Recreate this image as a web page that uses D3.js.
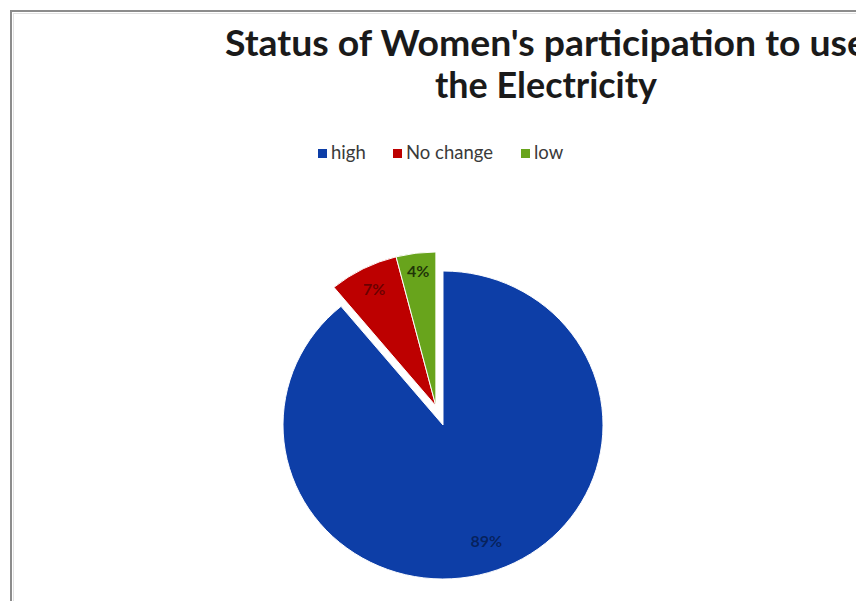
<!DOCTYPE html>
<html>
<head>
<meta charset="utf-8">
<script src="https://cdn.jsdelivr.net/npm/d3@7/dist/d3.min.js"></script>
<style>
  html, body { margin: 0; padding: 0; background: #ffffff; }
  svg { display: block; }
</style>
</head>
<body>
<svg id="chart" width="856" height="601"></svg>
<script>
// Survey answers: women's participation in using electricity
const categories = ["high", "No change", "low"];
const values = [89, 7, 4];
const sliceColors = ["#0d3ea7", "#bd0000", "#68a41c"];
const titleLines = ["Status of Women's participation to use", "the Electricity"];

const W = 856, H = 601;
const svg = d3.select("#chart");
const FONT = "Lato, 'Open Sans', 'DejaVu Sans', sans-serif";

// chart frame (extends past the right and bottom edges)
svg.append("rect")
  .attr("x", 11).attr("y", 11)
  .attr("width", W + 40).attr("height", H + 40)
  .attr("fill", "#ffffff")
  .attr("stroke", "#8c8c8c").attr("stroke-width", 2);
svg.append("rect")
  .attr("x", 13.5).attr("y", 13.5)
  .attr("width", W + 40).attr("height", H + 40)
  .attr("fill", "none")
  .attr("stroke", "#e2e2e2").attr("stroke-width", 1);

// title, centred on the full chart width (runs past the right edge)
const titleX = 546;
const titleWidths = [642, 222];
svg.append("g")
  .attr("font-family", FONT)
  .attr("font-weight", "bold")
  .attr("font-size", 36)
  .attr("fill", "#1a1a1a")
  .selectAll("text")
  .data(titleLines)
  .join("text")
  .attr("x", titleX)
  .attr("y", (d, i) => 56 + i * 42)
  .attr("text-anchor", "middle")
  .attr("textLength", (d, i) => titleWidths[i])
  .attr("lengthAdjust", "spacingAndGlyphs")
  .text(d => d);

// legend
const legend = svg.append("g").attr("font-family", FONT).attr("font-size", 18.5);
const legendX = [318, 393, 521];
const legendItems = legend.selectAll("g")
  .data(categories)
  .join("g")
  .attr("transform", (d, i) => `translate(${legendX[i]},153)`);
legendItems.append("rect")
  .attr("x", 0).attr("y", -4)
  .attr("width", 9).attr("height", 9)
  .attr("fill", (d, i) => sliceColors[i]);
legendItems.append("text")
  .attr("x", 13).attr("y", 6)
  .attr("fill", "#3a3a3a")
  .text(d => d);

// pie
const cx = 443, cy = 425, R = 160, yScale = 154 / 160;
const pie = d3.pie().sort(null).value(d => d);
const arcs = pie(values);
const arc = d3.arc().innerRadius(0).outerRadius(R);

// the two small slices are pulled out together along their shared bisector
const explodeDist = [0, 21, 21];
const groupStart = arcs[1].startAngle, groupEnd = arcs[2].endAngle;
const groupMid = (groupStart + groupEnd) / 2;

const pieG = svg.append("g").attr("transform", `translate(${cx},${cy})`);
const slices = pieG.selectAll("g.slice")
  .data(arcs)
  .join("g")
  .attr("class", "slice")
  .attr("transform", (d, i) => {
    const dx = explodeDist[i] * Math.sin(groupMid);
    const dy = -explodeDist[i] * Math.cos(groupMid) * yScale;
    return `translate(${dx},${dy})`;
  });

slices.append("path")
  .attr("transform", `scale(1,${yScale})`)
  .attr("d", arc)
  .attr("fill", (d, i) => sliceColors[i])
  .attr("stroke", "#ffffff")
  .attr("stroke-width", 1);

// percentage labels along each slice's bisector
const labelR = [0.8, 0.85, 0.88].map(f => f * R);
slices.append("text")
  .attr("x", (d, i) => labelR[i] * Math.sin((d.startAngle + d.endAngle) / 2))
  .attr("y", (d, i) => -labelR[i] * Math.cos((d.startAngle + d.endAngle) / 2) * yScale)
  .attr("dy", "0.35em")
  .attr("text-anchor", "middle")
  .attr("font-family", FONT)
  .attr("font-size", 16)
  .attr("font-weight", "bold")
  .attr("fill", "#000000")
  .attr("fill-opacity", (d, i) => i === 2 ? 0.7 : 0.45)
  .text(d => d.data + "%");
</script>
</body>
</html>
